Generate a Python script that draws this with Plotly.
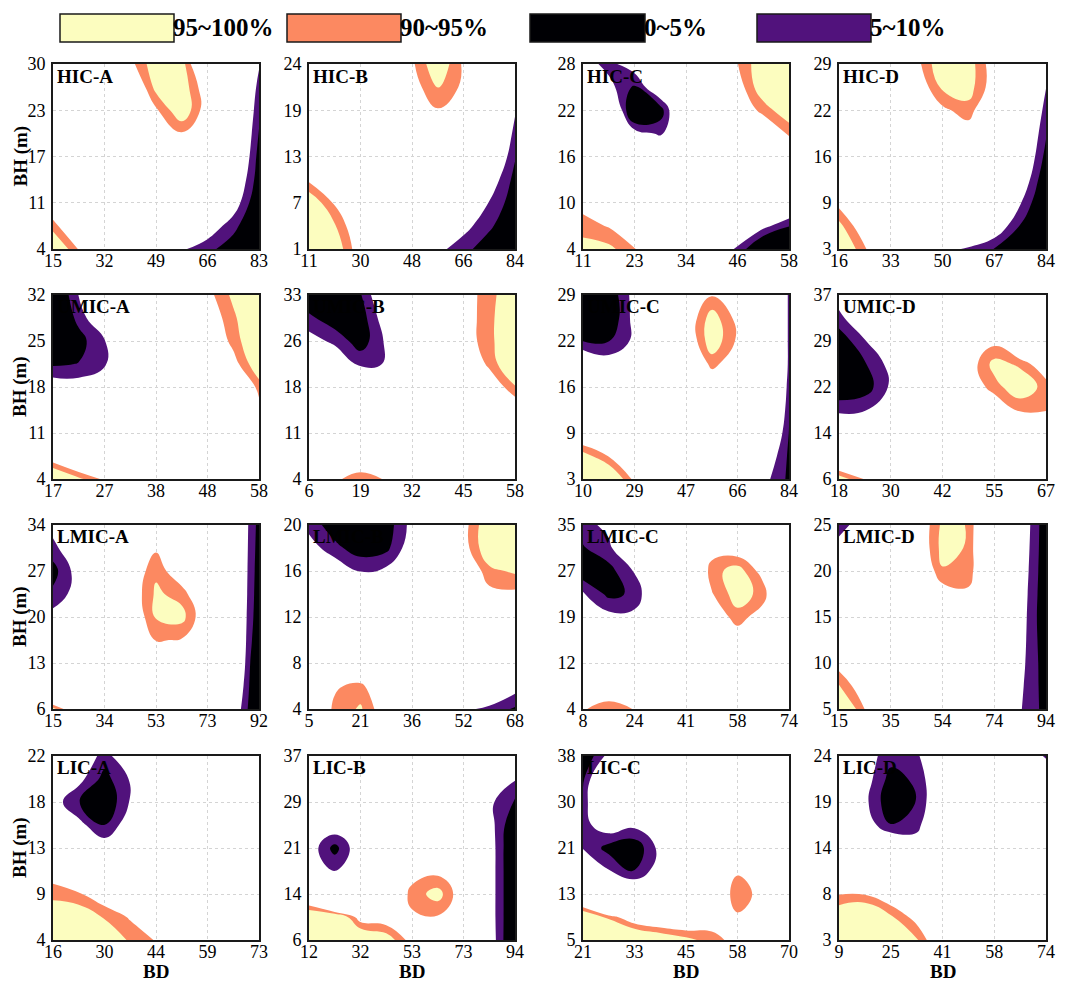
import numpy as np
import plotly.graph_objects as go
from plotly.subplots import make_subplots

# panel names, axis tick labels (ends are the axis limits)
PANELS = ["HIC-A", "HIC-B", "HIC-C", "HIC-D",
          "UMIC-A", "UMIC-B", "UMIC-C", "UMIC-D",
          "LMIC-A", "LMIC-B", "LMIC-C", "LMIC-D",
          "LIC-A", "LIC-B", "LIC-C", "LIC-D"]

X_TICKS = [[15, 32, 49, 66, 83], [11, 30, 48, 66, 84], [11, 23, 34, 46, 58], [16, 33, 50, 67, 84],
           [17, 27, 38, 48, 58], [6, 19, 32, 45, 58], [10, 29, 47, 66, 84], [18, 30, 42, 55, 67],
           [15, 34, 53, 73, 92], [5, 21, 36, 52, 68], [8, 24, 41, 58, 74], [15, 35, 54, 74, 94],
           [16, 30, 44, 59, 73], [12, 32, 53, 73, 94], [21, 33, 45, 58, 70], [9, 25, 41, 58, 74]]

Y_TICKS = [[4, 11, 17, 23, 30], [1, 7, 13, 19, 24], [4, 10, 16, 22, 28], [3, 9, 16, 22, 29],
           [4, 11, 18, 25, 32], [4, 11, 18, 26, 33], [3, 9, 16, 22, 29], [6, 14, 22, 29, 37],
           [6, 13, 20, 27, 34], [4, 8, 12, 16, 20], [4, 12, 19, 27, 35], [5, 10, 15, 20, 25],
           [4, 9, 13, 18, 22], [6, 14, 21, 29, 37], [5, 13, 21, 30, 38], [3, 8, 14, 19, 24]]

# percentile surfaces on a 9x9 grid (rows listed top BH -> bottom BH, cols low BD -> high BD)
Z_HIC_A = [
    [50, 55, 75, 88, 99, 98, 75, 40, 10.5],
    [50, 55, 65, 80, 97, 99, 85, 22, 8.5],
    [50, 50, 55, 70, 89, 100, 86, 22, 7],
    [50, 50, 50, 60, 82, 89.5, 80, 24, 4.5],
    [50, 50, 50, 50, 70, 80, 60, 22, 3],
    [50, 50, 50, 50, 50, 50, 40, 18, 2],
    [83, 60, 50, 50, 45, 35, 28, 14, -0.5],
    [92.5, 80, 60, 45, 30, 20, 14.7, 6.7, -1.3],
    [103, 89.5, 60, 20, 15.3, 10.9, 6.5, 2.1, -2.3]]
Z_HIC_B = [
    [60, 50, 50, 75, 88.8, 100, 89, 70, 20],
    [65, 50, 50, 70, 86.6, 95.5, 88.6, 55, 15],
    [70, 55, 50, 55, 80, 89.5, 82, 40, 10.8],
    [75, 60, 50, 50, 70, 75, 70, 25, 8],
    [78, 65, 50, 50, 50, 50, 45, 20.5, 5.5],
    [88.7, 80, 60, 50, 45, 40, 25, 14.3, 3.2],
    [100.5, 89.1, 70, 50, 40, 30, 17.7, 9.7, 1.8],
    [108, 95.6, 83, 60, 30, 18, 12.2, 6.05, -0.1],
    [106, 99.7, 85.4, 60, 17, 11.75, 6.8, 1.8, -3.2]]
Z_HIC_C = [
    [13, 8, 14, 25, 40, 60, 89.8, 99.6, 105],
    [20, 12, 4, 18, 40, 55, 86.5, 99.5, 105],
    [30, 26, -5, 2, 25, 50, 84, 92, 99.7],
    [40, 35, 13, 9, 22, 45, 60, 82, 91],
    [50, 45, 30, 16, 25, 40, 50, 65, 82],
    [60, 50, 45, 40, 40, 45, 50, 55, 60],
    [87.5, 70, 55, 50, 45, 40, 35, 30, 20],
    [92.5, 89.5, 75, 55, 45, 30, 20, 12, 5.2],
    [97.5, 96.5, 91, 70, 40, 13, 9.5, -4, -3]]
Z_HIC_D = [
    [60, 55, 65, 87.9, 100.1, 98.2, 86, 35, 14],
    [55, 50, 60, 84.5, 96.2, 97.6, 86.2, 30, 10.2],
    [55, 50, 55, 75, 88.5, 93, 80, 25, 7.5],
    [60, 50, 50, 60, 80, 86, 75, 21, 5.6],
    [65, 55, 50, 50, 60, 65, 50, 19.3, 3.2],
    [70, 60, 50, 45, 45, 45, 35, 15.9, 0.3],
    [87.9, 75, 60, 45, 35, 30, 22, 10.6, -2],
    [96.9, 84.4, 65, 35, 25, 20, 15.7, 4.7, -2],
    [103, 90.7, 78.5, 15, 12, 9.2, 4.87, 0.6, -3.7]]
Z_UMIC_A = [
    [-3, 10.2, 22, 40, 50, 60, 87.8, 96.4, 105],
    [-2, 6.5, 18, 35, 50, 60, 85, 93.8, 102.7],
    [0, 3, 9.5, 25, 45, 55, 82, 92, 102],
    [4.1, 5.2, 9, 25, 45, 55, 70, 87.1, 100],
    [14.1, 13.3, 15, 30, 45, 55, 65, 75, 92.5],
    [24, 25, 30, 40, 50, 55, 60, 70, 87],
    [60, 50, 45, 50, 50, 55, 60, 65, 75],
    [84, 75, 60, 55, 50, 55, 60, 60, 65],
    [105, 96.5, 88.6, 65, 55, 55, 55, 55, 60]]
Z_UMIC_B = [
    [0, -3, 4.5, 18, 35, 50, 86.4, 93.1, 99.8],
    [6.3, 1.5, 2, 14, 30, 50, 86.2, 93.5, 100.9],
    [12.6, 8.6, 2, 11, 25, 50, 86, 93.5, 101],
    [20, 15.7, 9, 10.2, 25, 50, 81, 91.6, 102],
    [30, 25, 17, 20, 30, 50, 70, 83.8, 94.5],
    [40, 35, 30, 30, 40, 50, 60, 70, 84],
    [50, 50, 50, 50, 50, 50, 55, 60, 65],
    [60, 70, 84, 75, 60, 50, 50, 50, 50],
    [65, 89, 92.5, 89.5, 70, 55, 50, 50, 50]]
Z_UMIC_C = [
    [-8, 0.8, 12.4, 40, 75, 89.5, 75, 50, 8],
    [-5, 0.2, 12.1, 45, 84, 98, 88, 50, 8],
    [4.9, 4.8, 11.3, 45, 83, 99, 89, 50, 8],
    [17.8, 13.4, 20, 45, 78, 92, 85, 50, 8],
    [30, 30, 35, 45, 60, 83, 70, 40, 7],
    [45, 45, 45, 50, 50, 55, 50, 35.5, 5.5],
    [81, 75, 60, 50, 50, 50, 40, 25, 4.8],
    [98, 89.6, 75, 55, 50, 45, 30, 16.8, 4],
    [110, 103.7, 88.1, 65, 50, 40, 25, 12.3, 3.8]]
Z_UMIC_D = [
    [13.6, 22, 30, 40, 50, 60, 65, 60, 55],
    [8.1, 17, 25, 40, 50, 70, 75, 70, 65],
    [1.3, 9.5, 20, 35, 50, 86, 88, 75, 70],
    [-3, 4.5, 12, 30, 50, 86, 97, 94, 84],
    [0, 2, 11, 30, 50, 84, 93, 99, 93],
    [8.6, 9.6, 15, 30, 50, 70, 83, 91, 90.5],
    [18.6, 17, 25, 35, 50, 60, 70, 80, 78],
    [75, 40, 40, 45, 50, 55, 60, 65, 65],
    [98.5, 89.5, 60, 50, 50, 50, 55, 60, 60]]
Z_LMIC_A = [
    [13, 25, 40, 50, 55, 55, 45, 19.7, 3],
    [7.8, 18, 35, 60, 89, 75, 45, 19.8, 2.5],
    [3, 13, 30, 84, 94, 84, 45, 19.9, 2],
    [6.1, 13, 35, 85, 96, 93, 80, 20, 1.5],
    [12.4, 20, 40, 83, 95.5, 97, 84, 20, 0.8],
    [25, 30, 45, 70, 90.5, 89.5, 75, 21, -1],
    [40, 40, 50, 60, 82, 80, 60, 22, -3.8],
    [60, 55, 50, 50, 60, 60, 50, 19, -3.6],
    [97, 80, 60, 50, 50, 50, 45, 15.7, -3.4]]
Z_LMIC_B = [
    [8, 2, 0, 2, 12, 40, 87.5, 100, 105],
    [13, 6.5, 2, 3.5, 14, 40, 87, 100, 105],
    [20, 15, 9.8, 11.5, 20, 45, 82, 93.5, 96],
    [30, 25, 18, 20, 30, 50, 75, 88, 88.5],
    [40, 40, 40, 40, 45, 50, 60, 70, 70],
    [50, 50, 50, 50, 50, 50, 50, 50, 50],
    [60, 70, 75, 65, 50, 45, 40, 35, 30],
    [70, 89, 92, 80, 60, 40, 30, 20, 13],
    [80, 91.5, 95.8, 85, 60, 30, 11.5, 8.4, 4.2]]
Z_LMIC_C = [
    [7.5, 12, 25, 40, 50, 60, 70, 70, 65],
    [4.5, 8.5, 20, 40, 60, 87, 85, 80, 70],
    [1, 3, 10.5, 30, 75, 92.5, 98, 87, 70],
    [11, 3.5, 6, 20, 70, 89.5, 98, 93, 70],
    [20, 12, 12, 30, 65, 84, 93, 86, 65],
    [35, 30, 35, 45, 55, 70, 85, 75, 60],
    [50, 50, 50, 50, 50, 55, 60, 55, 50],
    [75, 86, 75, 60, 50, 50, 50, 50, 50],
    [89.6, 92, 89.8, 75, 55, 50, 50, 50, 50]]
Z_LMIC_D = [
    [8, 13, 40, 83.5, 96.3, 94.8, 71, 15.6, 1.3],
    [12, 25, 50, 83, 97, 94.5, 70, 15, 1.2],
    [20, 30, 50, 80, 94.5, 94.5, 70, 14.4, 1],
    [30, 35, 50, 70, 86, 88, 65, 13.8, 0.7],
    [40, 45, 50, 60, 80, 80, 55, 13.3, 0.5],
    [55, 50, 50, 50, 55, 55, 45, 12.7, 1.2],
    [86.9, 65, 50, 50, 50, 50, 40, 12, 2],
    [95.5, 84.5, 60, 50, 45, 40, 30, 11.2, 2.5],
    [105, 89.8, 65, 50, 40, 35, 20, 10.5, 3]]
Z_LIC_A = [
    [30, 15, 8, 15, 30, 50, 50, 50, 50],
    [20, 12, 3, 10.5, 30, 50, 50, 50, 50],
    [13, 5.2, 0, 10.5, 30, 50, 50, 50, 50],
    [20, 12, 4.9, 14, 30, 50, 50, 50, 50],
    [35, 25, 14, 20, 35, 50, 50, 50, 50],
    [86.2, 80, 60, 50, 50, 50, 50, 50, 50],
    [93.1, 90.8, 85, 70, 55, 50, 50, 50, 50],
    [100, 99.8, 94.5, 89.2, 75, 55, 50, 50, 50],
    [108, 104, 99.1, 94.3, 89.5, 60, 50, 50, 50]]
Z_LIC_B = [
    [50, 50, 50, 50, 50, 50, 50, 30, 20],
    [45, 40, 45, 50, 50, 50, 50, 20, 10.5],
    [35, 30, 35, 45, 50, 50, 45, 11.5, 4],
    [25, 15, 20, 40, 50, 50, 45, 12.7, 0],
    [14, 3, 15, 40, 60, 65, 50, 13.8, -2],
    [15, 9.9, 15, 50, 87, 88, 70, 13.8, -2],
    [77, 40, 35, 80, 92, 97.5, 85, 13.8, -2],
    [103, 104, 86, 85, 89, 89.5, 70, 13.8, -2],
    [108, 106, 104, 99.1, 87, 75, 50, 14.4, -2.7]]
Z_LIC_C = [
    [0, 12, 25, 40, 50, 55, 55, 55, 55],
    [4, 25, 35, 45, 50, 55, 60, 60, 60],
    [6.5, 25, 30, 40, 50, 55, 65, 65, 60],
    [8, 14, 11.5, 14, 40, 55, 70, 70, 60],
    [9.8, 3, 1, 12, 30, 60, 75, 75, 65],
    [15, 10.5, 4.5, 14, 30, 70, 89.5, 80, 65],
    [72, 40, 20, 30, 50, 85, 92, 88.5, 70],
    [103, 93.4, 83.6, 80, 80, 86, 89.5, 80, 65],
    [110, 108, 106, 101.7, 97, 92.3, 87.6, 70, 60]]
Z_LIC_D = [
    [40, 13, 7, 9, 18, 40, 55, 60, 3],
    [40, 13, 3, 6, 18, 40, 55, 60, 60],
    [35, 11.5, 1, 5.2, 18, 40, 55, 60, 60],
    [40, 14, 5.2, 8, 20, 40, 55, 60, 60],
    [50, 30, 20, 14, 25, 45, 55, 60, 60],
    [70, 60, 50, 40, 40, 50, 55, 60, 60],
    [89.7, 89.5, 84, 70, 55, 55, 55, 55, 55],
    [100.6, 104, 96, 87.2, 70, 55, 55, 55, 55],
    [106, 107, 105, 95.9, 80.9, 60, 55, 55, 55]]

Z_GRIDS = [Z_HIC_A, Z_HIC_B, Z_HIC_C, Z_HIC_D,
           Z_UMIC_A, Z_UMIC_B, Z_UMIC_C, Z_UMIC_D,
           Z_LMIC_A, Z_LMIC_B, Z_LMIC_C, Z_LMIC_D,
           Z_LIC_A, Z_LIC_B, Z_LIC_C, Z_LIC_D]

LEGEND_LABELS = ["95~100%", "90~95%", "0~5%", "5~10%"]

YELLOW, SALMON, BLACK, PURPLE = "#fcfdbf", "#fc8961", "#000004", "#51127c"
CLEAR = "rgba(255,255,255,0)"
LEGEND_COLORS = [YELLOW, SALMON, BLACK, PURPLE]

# two-band colorscales: below 90 clear, 90-95 band, above 95 band
HIGH_CS = [[0, CLEAR], [0.25, CLEAR], [0.25, SALMON], [0.75, SALMON], [0.75, YELLOW], [1, YELLOW]]
LOW_CS = [[0, CLEAR], [0.25, CLEAR], [0.25, PURPLE], [0.75, PURPLE], [0.75, BLACK], [1, BLACK]]

FONT = "Liberation Serif, Times New Roman, serif"
# page has an 8px body margin, so the figure is sized to fit inside the window
OFF = 8
W, H = 1080 - 2 * OFF, 993 - 2 * OFF
COL_PX = [(53, 259), (309, 515), (583, 789), (839, 1046)]
ROW_PX = [(64, 249), (295, 479), (525, 709), (756, 940)]


def px(v):
    return (v - OFF) / W


def py(v):
    return 1 - (v - OFF) / H


fig = make_subplots(rows=4, cols=4)

contour_opts = dict(autocontour=False,
                    contours=dict(start=90, end=95, size=5, coloring="fill", showlines=False),
                    showscale=False, line=dict(width=0, smoothing=1.3), hoverinfo="skip")

for k, name in enumerate(PANELS):
    r, c = divmod(k, 4)
    xt, yt = X_TICKS[k], Y_TICKS[k]
    xs = np.linspace(xt[0], xt[-1], 9)
    ys = np.linspace(yt[0], yt[-1], 9)
    z = np.array(Z_GRIDS[k], dtype=float)[::-1]
    # high percentiles (90-100) and low percentiles (0-10, flipped so the core sits on top)
    fig.add_trace(go.Contour(x=xs, y=ys, z=z, colorscale=HIGH_CS, **contour_opts), row=r + 1, col=c + 1)
    fig.add_trace(go.Contour(x=xs, y=ys, z=100 - z, colorscale=LOW_CS, **contour_opts), row=r + 1, col=c + 1)

    n = k + 1
    sfx = "" if n == 1 else str(n)
    x0, x1 = COL_PX[c]
    y0, y1 = ROW_PX[r]
    axis_common = dict(showgrid=True, gridcolor="#d4d4d4", griddash="dot", gridwidth=1,
                       showline=True, mirror=True, linecolor="#1a1a1a", linewidth=1.6,
                       ticks="", zeroline=False, automargin=False,
                       tickfont=dict(family=FONT, size=18, color="black"))
    fig.layout["xaxis" + sfx].update(domain=[px(x0), px(x1)], range=[xt[0], xt[-1]],
                                     tickmode="array", tickvals=np.linspace(xt[0], xt[-1], 5),
                                     ticktext=[str(v) for v in xt], ticklabelstandoff=-5, **axis_common)
    fig.layout["yaxis" + sfx].update(domain=[py(y1), py(y0)], range=[yt[0], yt[-1]],
                                     tickmode="array", tickvals=np.linspace(yt[0], yt[-1], 5),
                                     ticktext=[str(v) for v in yt], ticklabelstandoff=2, **axis_common)
    fig.add_annotation(text="<b>%s</b>" % name, xref="x%s domain" % sfx, yref="y%s domain" % sfx,
                       x=0.012, y=1 - 12 / 185, xanchor="left", yanchor="middle", showarrow=False,
                       font=dict(family=FONT, size=19, color="black"))

# axis titles
for r, (y0, y1) in enumerate(ROW_PX):
    fig.add_annotation(text="<b>BH (m)</b>", xref="paper", yref="paper", x=px(20), y=py((y0 + y1) / 2),
                       textangle=-90, showarrow=False, xanchor="center", yanchor="middle", borderpad=0,
                       font=dict(family=FONT, size=19, color="black"))
for c, (x0, x1) in enumerate(COL_PX):
    fig.add_annotation(text="<b>BD</b>", xref="paper", yref="paper", x=px((x0 + x1) / 2), y=py(971),
                       showarrow=False, xanchor="center", yanchor="middle", borderpad=0,
                       font=dict(family=FONT, size=19, color="black"))

# legend boxes
LEG_X = [(60, 174), (287, 401), (530, 645), (757, 871)]
for (lx0, lx1), col, lab in zip(LEG_X, LEGEND_COLORS, LEGEND_LABELS):
    fig.add_shape(type="rect", xref="paper", yref="paper", x0=px(lx0), x1=px(lx1),
                  y0=py(42), y1=py(14), fillcolor=col, line=dict(color="#1a1a1a", width=1.5))
    fig.add_annotation(text="<b>%s</b>" % lab, xref="paper", yref="paper", x=px(lx1 - 3), y=py(27.5),
                       xanchor="left", yanchor="middle", showarrow=False,
                       font=dict(family=FONT, size=25, color="black"))

fig.update_layout(width=W, height=H, margin=dict(l=0, r=0, t=0, b=0),
                  paper_bgcolor="white", plot_bgcolor="white", showlegend=False)

fig.write_html("out.html")
